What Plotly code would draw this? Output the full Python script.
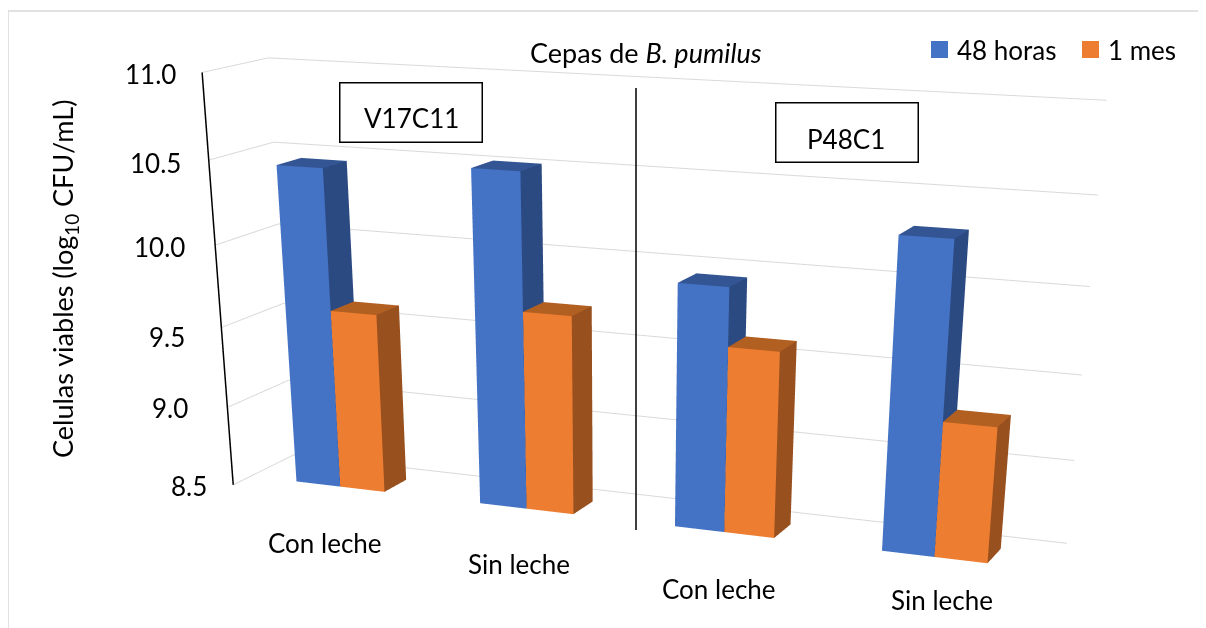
import plotly.graph_objects as go

categories = ["Con leche", "Sin leche", "Con leche", "Sin leche"]
horas_48 = [10.459, 10.517, 9.952, 10.311]
mes_1 = [9.610, 9.708, 9.609, 9.296]
ticks = [8.5, 9.0, 9.5, 10.0, 10.5, 11.0]

W, H = 1206, 2000   # tall page: the scene's fixed field of view needs a long focal length
OX = OY = 8         # the page's body margin
BAR_HALF = 0.2433   # bar width, in category units
DEPTH = (0.28671, 0.67261)
Z_PAD = 0.05
cat_px = [(325, 543), (519, 564), (719, 589), (942, 600)]
tick_dx = [-24, -37, -34, -28, -26, -24]
tick_dy = [-1, -1, -9, -2, -3, -2]
FS = 26
FONT = "Lato"


def xp(v):
    return (v - OX) / W


def yp(v):
    return 1 - (v - OY) / H


def text(px, py, s, size=FS, xa="center", **k):
    return dict(x=xp(px), y=yp(py), xref="paper", yref="paper", text=s, showarrow=False,
                xanchor=xa, yanchor="middle", font=dict(family=FONT, size=size, color="black"), **k)


def box(x0, y0, x1, y1):
    return dict(x=xp((x0 + x1) / 2), y=yp((y0 + y1) / 2), xref="paper", yref="paper", text=" ",
                showarrow=False, xanchor="center", yanchor="middle", width=x1 - x0, height=y1 - y0,
                bgcolor="white", bordercolor="black", borderwidth=1.5, borderpad=0)


def bar(fig, x0, x1, v, front, side, top, name):
    y0, y1 = DEPTH
    xs = [x0, x1, x1, x0, x0, x1, x1, x0]
    ys = [y0, y0, y1, y1, y0, y0, y1, y1]
    zs = [ticks[0]] * 4 + [v] * 4
    faces = [(0, 1, 5, front), (0, 5, 4, front), (1, 2, 6, side), (1, 6, 5, side),
             (4, 5, 6, top), (4, 6, 7, top)]
    fig.add_trace(go.Mesh3d(x=xs, y=ys, z=zs, i=[f[0] for f in faces], j=[f[1] for f in faces],
                            k=[f[2] for f in faces], facecolor=[f[3] for f in faces], flatshading=True,
                            lighting=dict(ambient=1, diffuse=0, specular=0, fresnel=0),
                            name=name, hoverinfo="skip"))


fig = go.Figure()
for i in range(len(categories)):
    c = i + 0.5
    bar(fig, c - BAR_HALF, c, horas_48[i], "#4472C4", "#2C4A82", "#335593", "48 horas")
    bar(fig, c, c + BAR_HALF, mes_1[i], "#ED7D31", "#98501F", "#B25F22", "1 mes")
for v in ticks:
    fig.add_trace(go.Scatter3d(x=[0, 0, 4], y=[0, 1, 1], z=[v, v, v], mode="lines",
                               line=dict(color="#d9d9d9", width=2), hoverinfo="skip"))
fig.add_trace(go.Scatter3d(x=[0, 0], y=[0, 0], z=[ticks[0], ticks[-1]], mode="lines",
                           line=dict(color="black", width=3), hoverinfo="skip"))

ann = [box(340, 83, 481, 141), box(776, 103, 917, 161),
       text(411, 118, "V17C11"), text(846, 139, "P48C1"),
       text(646, 53, "Cepas de <i>B. pumilus</i>", size=27),
       text(955, 50, "48 horas", xa="left"), text(1106, 50, "1 mes", xa="left"),
       text(65, 279, "Celulas viables (log<sub>10</sub> CFU/mL)", size=27, textangle=-90),
       dict(x=xp(636), y=yp(530), xref="paper", yref="paper", text=" ", ax=0, ay=-452,
            axref="pixel", ayref="pixel", showarrow=True, arrowhead=0, arrowwidth=1.5, arrowcolor="black")]
for t, (px, py) in zip(categories, cat_px):
    ann.append(text(px, py, t))

scene_ann = [dict(x=0, y=0, z=v, text="%.1f" % v, showarrow=False, xanchor="right", yanchor="middle",
                  xshift=dx, yshift=dy, font=dict(family=FONT, size=FS, color="black"))
             for v, dx, dy in zip(ticks, tick_dx, tick_dy)]

shapes = [dict(type="line", xref="paper", yref="paper", x0=xp(8), x1=xp(8), y0=yp(11), y1=yp(640),
               line=dict(color="#d9d9d9", width=1.5)),
          dict(type="line", xref="paper", yref="paper", x0=xp(8), x1=1, y0=yp(11), y1=yp(11),
               line=dict(color="#d9d9d9", width=1.5)),
          dict(type="rect", xref="paper", yref="paper", x0=xp(931), x1=xp(948), y0=yp(41), y1=yp(58),
               fillcolor="#4472C4", line_width=0),
          dict(type="rect", xref="paper", yref="paper", x0=xp(1082), x1=xp(1099), y0=yp(41), y1=yp(58),
               fillcolor="#ED7D31", line_width=0)]

ax = dict(showgrid=False, showticklabels=False, showline=False, zeroline=False, showbackground=False,
          title="", showspikes=False, ticks="")
fig.update_layout(
    width=W, height=H, margin=dict(l=0, r=0, t=0, b=0), showlegend=False, paper_bgcolor="white",
    shapes=shapes, annotations=ann,
    scene=dict(domain=dict(x=[0, 1], y=[0, 1]), aspectmode="manual",
               aspectratio=dict(x=1.60129, y=0.24051, z=0.75999 * (2.5 + 2 * Z_PAD) / 2.5),
               camera=dict(eye=dict(x=1.68177, y=-4.14579, z=0.92147),
                           center=dict(x=0.32031, y=-0.88446, z=-0.94244),
                           up=dict(x=-0.24288, y=0.58632, z=1)),
               xaxis=dict(ax, range=[0, 4]), yaxis=dict(ax, range=[0, 1]),
               zaxis=dict(ax, range=[ticks[0] - Z_PAD, ticks[-1] + Z_PAD]),
               annotations=scene_ann))
fig.write_html("out.html")
